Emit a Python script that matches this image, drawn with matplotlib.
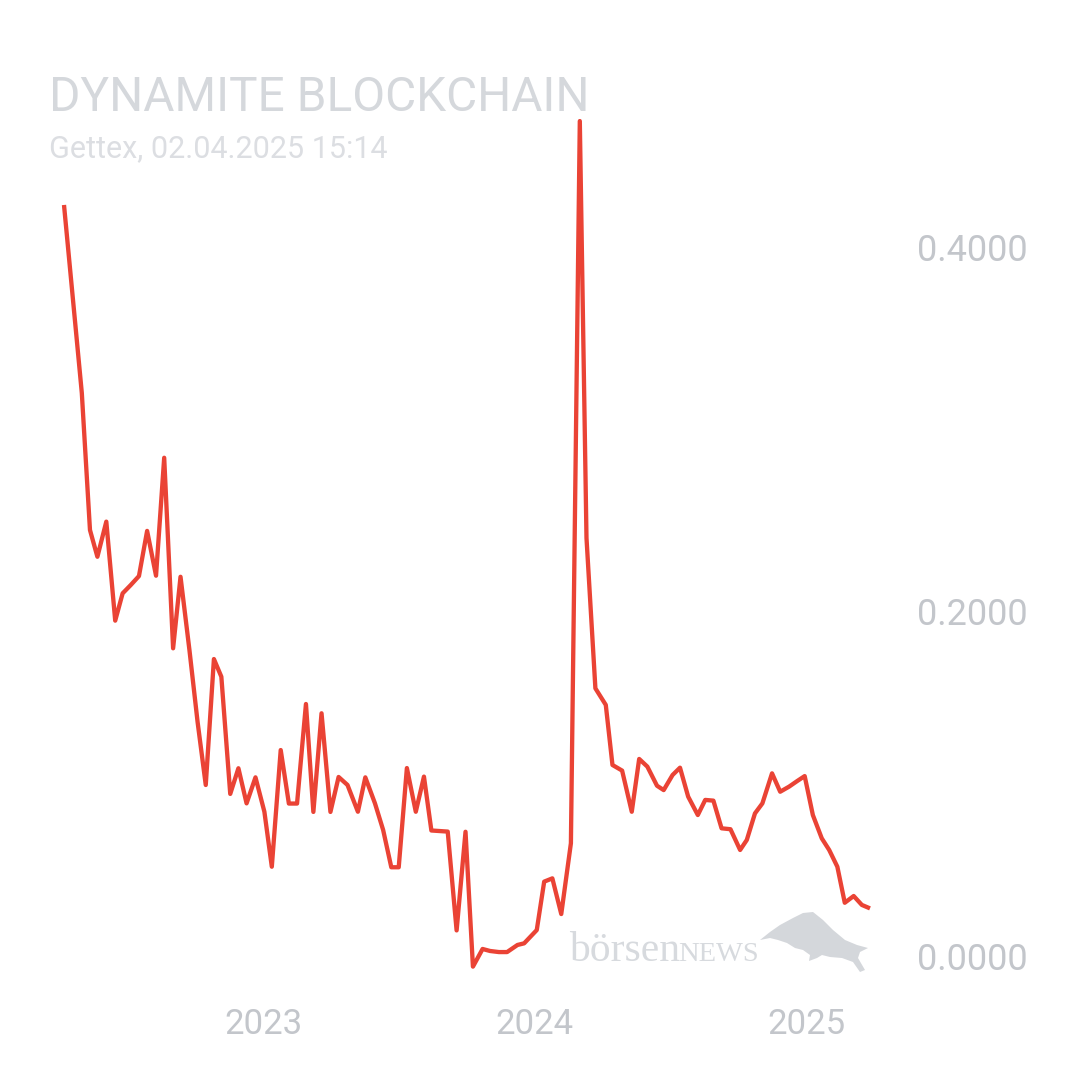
import pandas as pd
import matplotlib
matplotlib.use("Agg")
import matplotlib.pyplot as plt
from matplotlib.transforms import ScaledTranslation
from matplotlib.patches import Polygon

# price series (Gettex, EUR)
dates = ["2022-04-07", "2022-05-01", "2022-05-12", "2022-05-22", "2022-06-03", "2022-06-15",
         "2022-06-25", "2022-07-06", "2022-07-17", "2022-07-28", "2022-08-09", "2022-08-20",
         "2022-09-01", "2022-09-11", "2022-09-23", "2022-10-04", "2022-10-15", "2022-10-26",
         "2022-11-05", "2022-11-17", "2022-11-28", "2022-12-09", "2022-12-21", "2023-01-02",
         "2023-01-12", "2023-01-24", "2023-02-04", "2023-02-15", "2023-02-27", "2023-03-09",
         "2023-03-20", "2023-04-01", "2023-04-12", "2023-04-24", "2023-05-08", "2023-05-18",
         "2023-05-31", "2023-06-11", "2023-06-22", "2023-07-02", "2023-07-13", "2023-07-25",
         "2023-08-05", "2023-08-15", "2023-08-26", "2023-09-06", "2023-09-18", "2023-09-30",
         "2023-10-10", "2023-10-23", "2023-11-02", "2023-11-14", "2023-11-25", "2023-12-09",
         "2023-12-18", "2024-01-04", "2024-01-14", "2024-01-25", "2024-02-06", "2024-02-19",
         "2024-03-02", "2024-03-11", "2024-03-23", "2024-04-06", "2024-04-15", "2024-04-28",
         "2024-05-11", "2024-05-21", "2024-06-01", "2024-06-14", "2024-06-23", "2024-07-05",
         "2024-07-15", "2024-07-26", "2024-08-08", "2024-08-18", "2024-08-29", "2024-09-09",
         "2024-09-21", "2024-10-04", "2024-10-13", "2024-10-24", "2024-11-03", "2024-11-16",
         "2024-11-27", "2024-12-09", "2024-12-20", "2024-12-30", "2025-01-10", "2025-01-22",
         "2025-02-01", "2025-02-12", "2025-02-22", "2025-03-06", "2025-03-17", "2025-03-28"]
prices = [0.4231, 0.3198, 0.2445, 0.2298, 0.2491, 0.1947,
          0.2097, 0.2143, 0.2192, 0.2440, 0.2194, 0.2842,
          0.1795, 0.2188, 0.1786, 0.1390, 0.1044, 0.1736,
          0.1639, 0.0995, 0.1136, 0.0943, 0.1086, 0.0897,
          0.0595, 0.1236, 0.0942, 0.0942, 0.1489, 0.0896,
          0.1438, 0.0896, 0.1088, 0.1044, 0.0897, 0.1086,
          0.0943, 0.0797, 0.0592, 0.0592, 0.1137, 0.0897,
          0.1090, 0.0794, 0.0791, 0.0788, 0.0245, 0.0787,
          0.0046, 0.0143, 0.0132, 0.0126, 0.0126, 0.0165,
          0.0174, 0.0247, 0.0513, 0.0531, 0.0335, 0.0724,
          0.4692, 0.2401, 0.1575, 0.1484, 0.1154, 0.1123,
          0.0897, 0.1187, 0.1145, 0.1040, 0.1016, 0.1099,
          0.1139, 0.0980, 0.0879, 0.0962, 0.0958, 0.0806,
          0.0801, 0.0687, 0.0742, 0.0888, 0.0943, 0.1108,
          0.1007, 0.1035, 0.1066, 0.1093, 0.0879, 0.0751,
          0.0687, 0.0595, 0.0397, 0.0434, 0.0385, 0.0366]

y_ticks = [0.0, 0.2, 0.4]
y_labels = ["0.0000", "0.2000", "0.4000"]
x_ticks = ["2023-01-01", "2024-01-01", "2025-01-01"]
x_labels = ["2023", "2024", "2025"]

title = "DYNAMITE BLOCKCHAIN"
subtitle = "Gettex, 02.04.2025 15:14"

RED = "#ea4335"
TICK = "#c3c6cb"
WM = "#d7dade"

plt.rcParams['font.family'] = ['Roboto', 'DejaVu Sans']

d = pd.to_datetime(dates)

fig = plt.figure(figsize=(10.8, 10.8), dpi=100)
ax = fig.add_axes([64 / 1080, 105 / 1080, 806 / 1080, 873.6 / 1080])

ax.plot(d, prices, color=RED, lw=3.1, solid_joinstyle='round', solid_capstyle='butt',
        clip_on=False, zorder=3)

ax.set_xlim(d[0], d[-1])
ax.set_ylim(0, 0.48)

for s in ax.spines.values():
    s.set_visible(False)

ax.yaxis.tick_right()
ax.set_yticks(y_ticks)
ax.set_yticklabels(y_labels)
ax.tick_params(axis='y', length=0, pad=34, labelsize=26, labelcolor=TICK)

ax.set_xticks(pd.to_datetime(x_ticks))
ax.set_xticklabels(x_labels)
ax.tick_params(axis='x', length=0, pad=24, labelsize=25, labelcolor=TICK)

# lowest label sits a bit above its gridline in the original
zero_lab = ax.yaxis.get_major_ticks()[0].label2
zero_lab.set_transform(zero_lab.get_transform() + ScaledTranslation(0, 0.19, fig.dpi_scale_trans))

fig.text(49 / 1080, (1080 - 111) / 1080, title, fontsize=34.4, color="#d5d8dc",
         va='baseline', ha='left')
fig.text(49 / 1080, (1080 - 157) / 1080, subtitle, fontsize=22, color="#dcdee2",
         va='baseline', ha='left')

# watermark
fig.text(569 / 1080, (1080 - 961) / 1080, "börsen", fontsize=30, color=WM,
         family='Liberation Serif', va='baseline', zorder=0)
fig.text(678 / 1080, (1080 - 961) / 1080, "NEWS", fontsize=20.5, color=WM,
         family='Liberation Serif', va='baseline', zorder=0)
bull = [(760, 940), (770, 932), (780, 925), (793, 918), (803, 913), (813, 912), (823, 920),
        (833, 930), (845, 940), (857, 945), (868, 948), (860, 952), (858, 958), (865, 970),
        (860, 972), (853, 962), (842, 958), (830, 957), (822, 955), (817, 958), (809, 961),
        (810, 955), (803, 950), (795, 948), (787, 943), (778, 940), (770, 938)]
bull = [(x / 1080, (1080 - y) / 1080) for x, y in bull]
fig.patches.append(Polygon(bull, closed=True, transform=fig.transFigure,
                           facecolor="#d4d7db", edgecolor='none', zorder=0))

fig.savefig("out.png", dpi=100, facecolor="white")
